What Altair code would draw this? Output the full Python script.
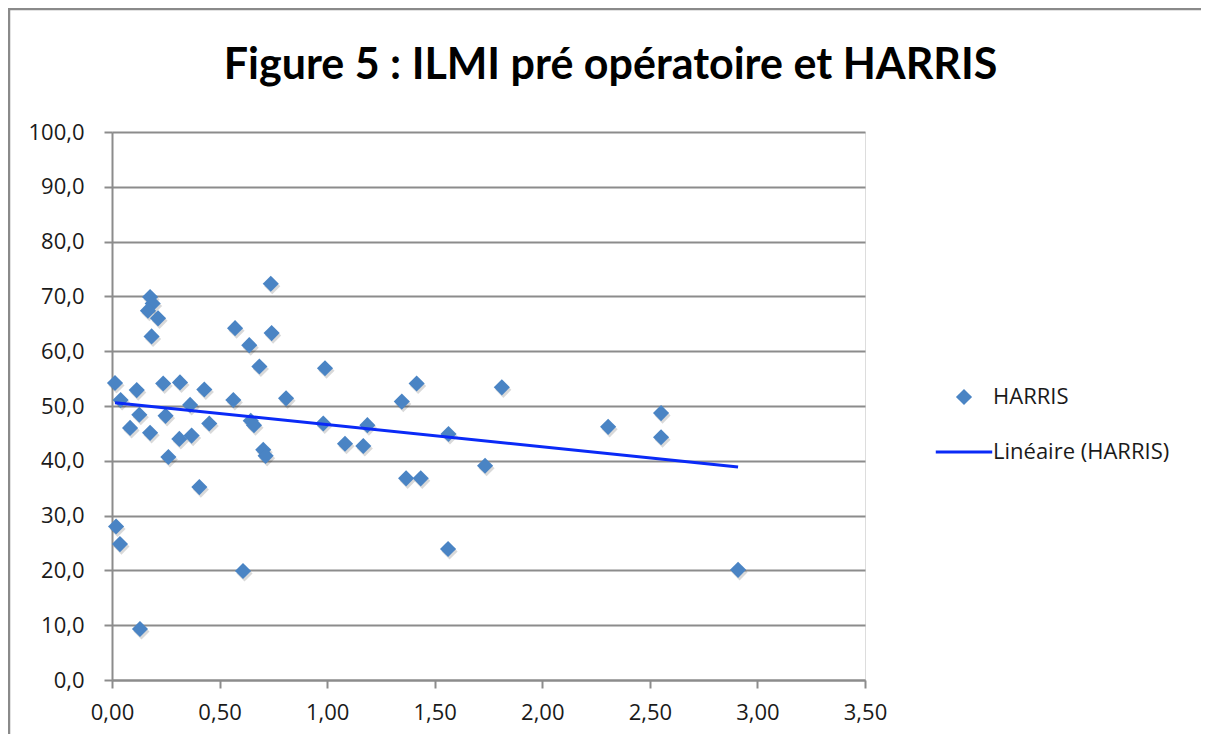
import altair as alt
import pandas as pd

# ILMI pré opératoire (x) and HARRIS score (y)
ilmi = [0.014, 0.040, 0.115, 0.127, 0.084, 0.177, 0.238, 0.316, 0.249, 0.262,
        0.313, 0.370, 0.363, 0.429, 0.452, 0.406, 0.177, 0.189, 0.167, 0.214,
        0.184, 0.572, 0.738, 0.742, 0.638, 0.685, 0.564, 0.809, 0.645, 0.660,
        0.703, 0.714, 0.990, 0.982, 1.083, 1.168, 1.187, 1.347, 1.416, 1.367,
        1.435, 1.564, 1.734, 1.812, 1.562, 2.306, 2.552, 2.552, 2.910, 0.609,
        0.019, 0.037, 0.130]
harris = [54.2, 51.1, 52.9, 48.4, 46.0, 45.1, 54.1, 54.3, 48.2, 40.7,
          44.0, 44.6, 50.2, 53.0, 46.8, 35.2, 69.9, 68.7, 67.4, 66.0,
          62.7, 64.2, 72.3, 63.3, 61.1, 57.2, 51.1, 51.4, 47.3, 46.5,
          42.0, 40.9, 56.9, 46.8, 43.1, 42.7, 46.5, 50.8, 54.1, 36.8,
          36.8, 44.9, 39.1, 53.4, 23.9, 46.2, 48.7, 44.3, 20.1, 19.9,
          28.0, 24.8, 9.3]

series_names = ["HARRIS", "Linéaire (HARRIS)"]
x_ticks = [0, 0.5, 1.0, 1.5, 2.0, 2.5, 3.0, 3.5]
y_ticks = [0, 10, 20, 30, 40, 50, 60, 70, 80, 90, 100]
title_text = "Figure 5 : ILMI pré opératoire et HARRIS"

df = pd.DataFrame({"ilmi": ilmi, "harris": harris, "serie": series_names[0]})

GRAY = "#8c8c8c"
FONT = "Open Sans"
POINT_BLUE = "#4A84C4"
LINE_BLUE = "#0A2AF7"

xscale = alt.Scale(domain=[0, 3.5], nice=False, zero=False)
yscale = alt.Scale(domain=[0, 100], nice=False)

xaxis = alt.Axis(values=x_ticks, labelExpr="replace(format(datum.value, '.2f'), '.', ',')",
                 grid=False, domainColor=GRAY, domainWidth=2, tickColor=GRAY, tickWidth=2,
                 tickSize=8, labelFont=FONT, labelFontSize=22, labelColor="#1a1a1a",
                 labelPadding=14, labelFlush=False, title=None)
yaxis = alt.Axis(values=y_ticks, labelExpr="replace(format(datum.value, '.1f'), '.', ',')",
                 grid=True, gridColor=GRAY, gridWidth=2, domainColor=GRAY, domainWidth=2,
                 tickColor=GRAY, tickWidth=2, tickSize=8, labelFont=FONT, labelFontSize=22,
                 labelColor="#1a1a1a", labelPadding=20, labelFlush=False, title=None)

color_scale = alt.Scale(domain=series_names, range=[POINT_BLUE, LINE_BLUE])
shape_scale = alt.Scale(domain=series_names, range=["diamond", "M-3.5,-0.2H3.5V0.2H-3.5Z"])

legend = alt.Legend(title=None, orient="none", legendX=841, legendY=254,
                    labelFont=FONT, labelFontSize=22, labelColor="#1a1a1a", labelLimit=0,
                    symbolSize=260, symbolStrokeWidth=0, symbolOpacity=1,
                    labelOffset=18, rowPadding=33, padding=0)

frame = alt.Chart(pd.DataFrame({"k": [0]})).mark_rect(
    fill="transparent", stroke="#8a8a8a", strokeWidth=2.5
).encode(x=alt.value(-103), y=alt.value(-123), x2=alt.value(3000), y2=alt.value(3000))

shadow = alt.Chart(df).mark_point(
    shape="diamond", filled=True, size=260, color="#000000", opacity=0.15,
    xOffset=1.5, yOffset=2.5
).encode(x=alt.X("ilmi:Q", scale=xscale, axis=xaxis), y=alt.Y("harris:Q", scale=yscale, axis=yaxis))

points = alt.Chart(df).mark_point(filled=True, size=260, opacity=1, strokeWidth=0).encode(
    x=alt.X("ilmi:Q", scale=xscale, axis=xaxis),
    y=alt.Y("harris:Q", scale=yscale, axis=yaxis),
    color=alt.Color("serie:N", scale=color_scale, legend=legend),
    shape=alt.Shape("serie:N", scale=shape_scale, legend=legend),
)

trend = alt.Chart(df).transform_regression("ilmi", "harris").mark_line(
    strokeWidth=3, color=LINE_BLUE
).encode(x=alt.X("ilmi:Q", scale=xscale), y=alt.Y("harris:Q", scale=yscale))

chart = alt.layer(frame, shadow, points, trend).properties(
    width=753, height=548,
    autosize=alt.AutoSizeParams(type="none"),
    padding={"left": 104, "top": 124, "right": 336, "bottom": 54},
    title=alt.TitleParams(title_text, font="Lato", fontSize=43, fontWeight="bold",
                          color="#000000", anchor="middle", frame="group",
                          baseline="alphabetic", dx=122, dy=114, offset=0),
).configure_view(stroke=None).configure(background="white")

chart.save("out.html", embed_options={"renderer": "svg", "actions": False})
